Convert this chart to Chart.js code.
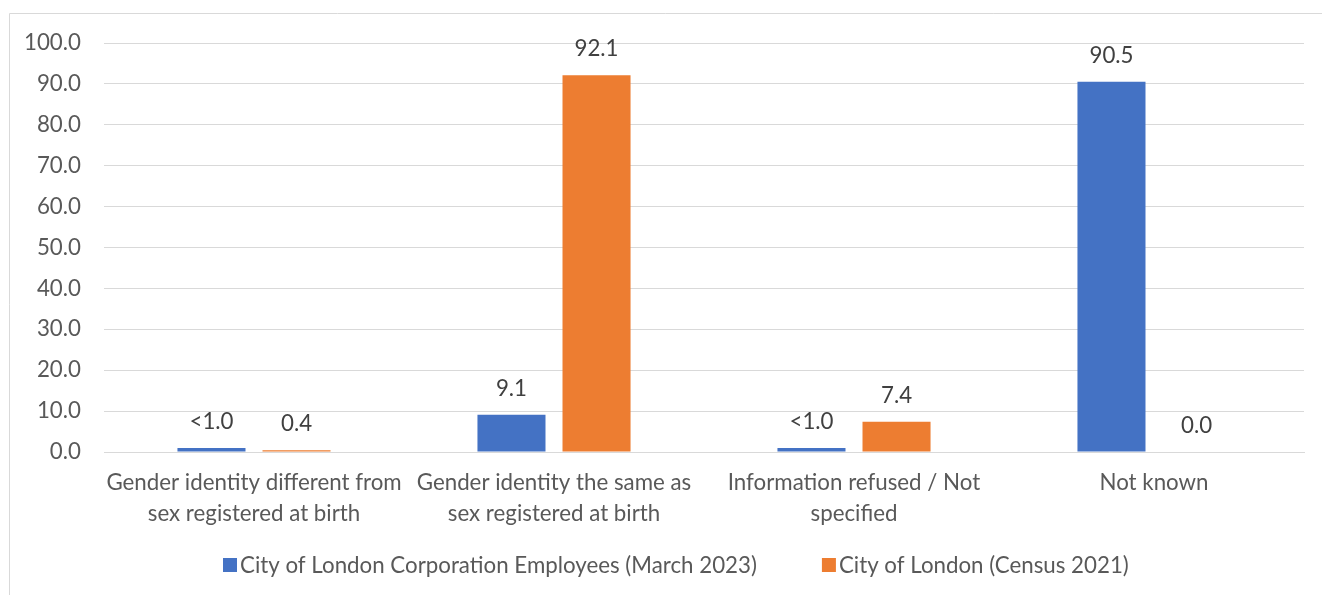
<!DOCTYPE html>
<html>
<head>
<meta charset="utf-8">
<script src="https://cdn.jsdelivr.net/npm/chart.js@4"></script>
<style>
  html, body { margin: 0; padding: 0; background: #fff; }
  #wrap { width: 1322px; height: 595px; position: relative; }
</style>
</head>
<body>
<div id="wrap"><canvas id="chart"></canvas></div>
<script>
const categories = [
    ['Gender identity different from', 'sex registered at birth'],
    ['Gender identity the same as', 'sex registered at birth'],
    ['Information refused / Not', 'specified'],
    'Not known',
];
const employees = [1.0, 9.1, 1.0, 90.5];
const employeesLabels = ['<1.0', '9.1', '<1.0', '90.5'];
const census = [0.4, 92.1, 7.4, 0.0];
const censusLabels = ['0.4', '92.1', '7.4', '0.0'];
const seriesNames = ['City of London Corporation Employees (March 2023)', 'City of London (Census 2021)'];
const yTicks = [0, 10, 20, 30, 40, 50, 60, 70, 80, 90, 100];

const FONT = 'Lato, sans-serif';
const SIZE = 22.3;

// value labels above each bar, Excel style
const barLabels = {
    id: 'barLabels',
    afterDatasetsDraw(chart) {
        const ctx = chart.ctx;
        ctx.save();
        ctx.font = SIZE + 'px ' + FONT;
        ctx.fillStyle = '#404040';
        ctx.textAlign = 'center';
        ctx.textBaseline = 'alphabetic';
        chart.data.datasets.forEach((ds, i) => {
            chart.getDatasetMeta(i).data.forEach((bar, j) => {
                ctx.fillText(ds.labels[j], bar.x, bar.y - 19);
            });
        });
        ctx.restore();
    }
};

// Excel-like legend: small square, tight gap to the text, wide gap between items
const excelLegend = {
    id: 'excelLegend',
    afterDraw(chart) {
        const ctx = chart.ctx;
        const box = 14, gap = 3, spacing = 65, cy = 565, cx = 676;
        ctx.save();
        ctx.font = SIZE + 'px ' + FONT;
        ctx.textBaseline = 'middle';
        ctx.textAlign = 'left';
        const items = chart.data.datasets.map(ds => ({ text: ds.label, color: ds.backgroundColor, w: ctx.measureText(ds.label).width }));
        const total = items.reduce((a, it) => a + box + gap + it.w, 0) + spacing * (items.length - 1);
        let x = Math.round(cx - total / 2);
        items.forEach(it => {
            ctx.fillStyle = it.color;
            ctx.fillRect(x, cy - box / 2, box, box);
            ctx.fillStyle = '#595959';
            ctx.fillText(it.text, x + box + gap, cy + 1);
            x += box + gap + it.w + spacing;
        });
        ctx.restore();
    }
};

// the light frame round the chart
const frame = {
    id: 'frame',
    beforeDraw(chart) {
        const ctx = chart.ctx;
        ctx.save();
        ctx.strokeStyle = '#d9d9d9';
        ctx.lineWidth = 1;
        ctx.beginPath();
        ctx.moveTo(9.5, chart.height);
        ctx.lineTo(9.5, 13.5);
        ctx.lineTo(chart.width, 13.5);
        ctx.stroke();
        ctx.restore();
    }
};

new Chart(document.getElementById('chart'), {
    type: 'bar',
    data: {
        labels: categories,
        datasets: [
            { label: seriesNames[0], data: employees, labels: employeesLabels, backgroundColor: '#4472C4' },
            { label: seriesNames[1], data: census, labels: censusLabels, backgroundColor: '#ED7D31' },
        ]
    },
    options: {
        responsive: true,
        maintainAspectRatio: false,
        animation: false,
        categoryPercentage: 0.567,
        barPercentage: 0.8,
        layout: { padding: { left: 0, right: 18, top: 43, bottom: 0 } },
        scales: {
            x: {
                grid: { display: false, drawTicks: false },
                border: { color: '#d9d9d9', width: 1 },
                ticks: { color: '#595959', font: { family: FONT, size: SIZE, lineHeight: 1.4 }, padding: 15, maxRotation: 0, autoSkip: false },
                afterFit: s => { s.height = 143; },
            },
            y: {
                min: 0,
                max: 100,
                afterBuildTicks: s => { s.ticks = yTicks.map(v => ({ value: v })); },
                grid: { color: '#d9d9d9', drawTicks: false },
                border: { display: false },
                ticks: { color: '#595959', font: { family: FONT, size: SIZE }, padding: 23, callback: v => v.toFixed(1) },
                afterFit: s => { s.width = 104; },
            }
        },
        plugins: {
            tooltip: { enabled: false },
            legend: { display: false }
        }
    },
    plugins: [barLabels, excelLegend, frame]
});
</script>
</body>
</html>
